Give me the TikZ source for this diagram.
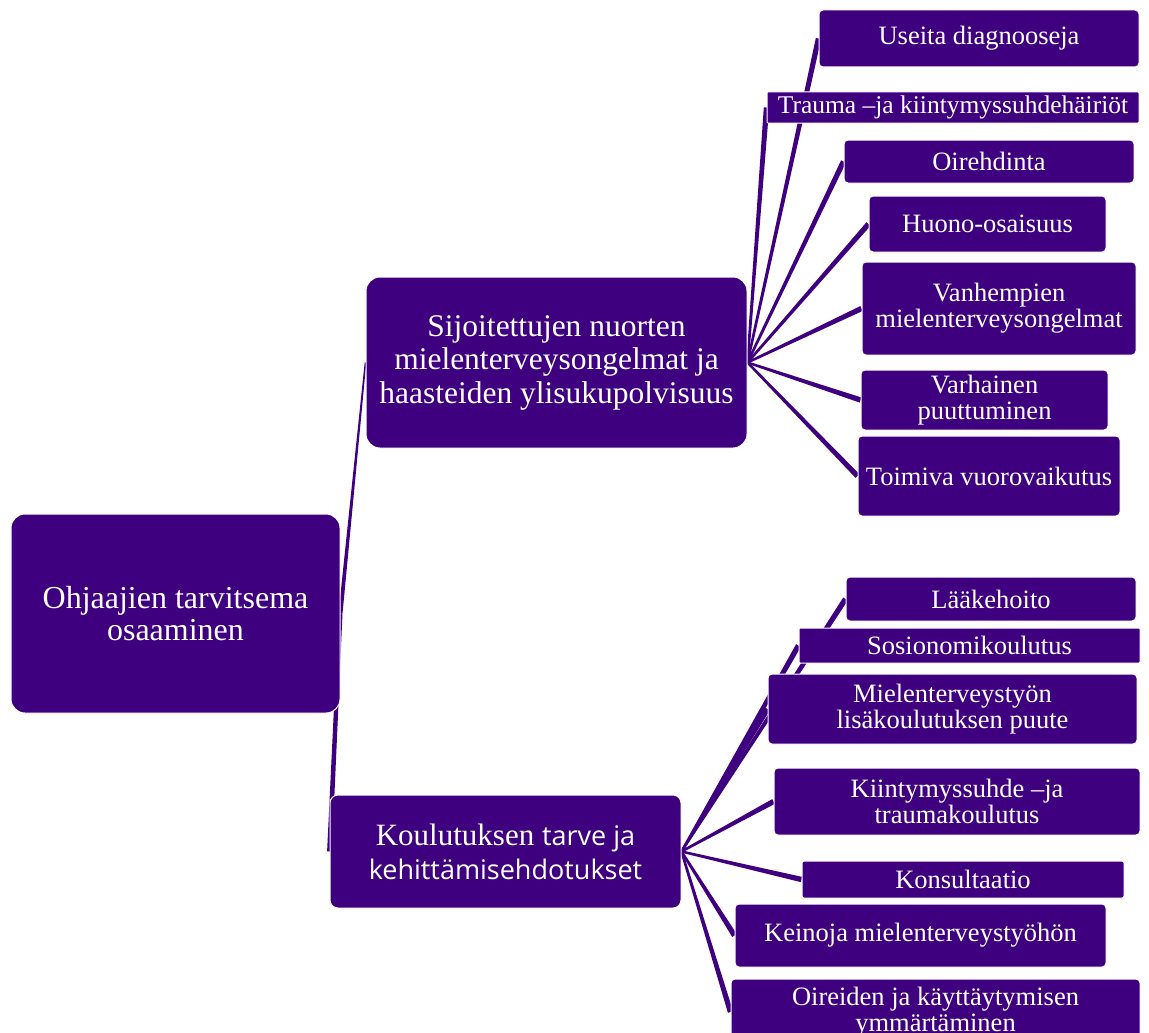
\documentclass[tikz,border=0pt]{standalone}
\usepackage{fontspec}
\setmainfont{Liberation Serif}
\newfontfamily\uifont{Open Sans}
\usepackage{tikz}
\usetikzlibrary{positioning, calc, backgrounds}
\definecolor{boxpurple}{RGB}{62,0,126}
% tapered connector: from, to, half width at start, half width at end
\newcommand{\taperlink}[4]{%
    \fill[boxpurple] ($(#1)!#3!90:(#2)$) -- ($(#1)!#3!-90:(#2)$)
        -- ($(#2)!#4!90:(#1)$) -- ($(#2)!#4!-90:(#1)$) -- cycle;%
}

\begin{document}
\begin{tikzpicture}[x=1pt, y=-1pt,
    mainbox/.style={fill=boxpurple, draw=white, line width=1pt, rounded corners=14pt,
        text=white, align=center, inner sep=0pt},
    leafbox/.style={fill=boxpurple, draw=white, line width=1pt, rounded corners=4pt,
        text=white, align=center, inner sep=0pt, font=\fontsize{26.5}{26}\selectfont}]
    \useasboundingbox (0,0) rectangle (1149,1033);

    % top levels
    \node[mainbox, minimum width=329pt, minimum height=199pt, font=\fontsize{32}{32}\selectfont]
        (osaaminen) at (175.5,613.5) {Ohjaajien tarvitsema\\osaaminen};
    \node[mainbox, minimum width=381pt, minimum height=171pt, font=\fontsize{31.5}{33.5}\selectfont]
        (sijoitetut) at (556.5,362.5) {Sijoitettujen nuorten\\mielenterveysongelmat ja\\haasteiden ylisukupolvisuus};
    \node[mainbox, rounded corners=8pt, minimum width=351pt, minimum height=113pt, font=\fontsize{31}{34}\selectfont]
        (koulutus) at (505.5,851.5) {Koulutuksen {\uifont\fontsize{27}{34}\selectfont tarve ja}\\{\uifont\fontsize{27}{34}\selectfont kehittämisehdotukset}};

    % leaves of the upper branch
    \node[leafbox, minimum width=320pt, minimum height=57pt] (diagnoosit) at (979,38.5) {Useita diagnooseja};
    \node[leafbox, rounded corners=1pt, minimum width=372pt, minimum height=31pt, font=\fontsize{25.5}{25}\selectfont]
        (trauma) at (953,107.5) {Trauma –ja kiintymyssuhdehäiriöt};
    \node[leafbox, minimum width=290pt, minimum height=43pt] (oirehdinta) at (989,161.5) {Oirehdinta};
    \node[leafbox, minimum width=237pt, minimum height=56pt] (huono) at (987.5,224) {Huono-osaisuus};
    \node[leafbox, minimum width=274pt, minimum height=93pt] (vanhemmat) at (999,308.5) {Vanhempien\\mielenterveysongelmat};
    \node[leafbox, minimum width=247pt, minimum height=60pt] (varhainen) at (984.5,400) {Varhainen\\puuttuminen};
    \node[leafbox, minimum width=262pt, minimum height=80pt] (vuorovaikutus) at (989,476) {Toimiva vuorovaikutus};

    % leaves of the lower branch
    \node[leafbox, minimum width=290pt, minimum height=44pt] (laake) at (991,599) {Lääkehoito};
    \node[leafbox, rounded corners=1pt, minimum width=341pt, minimum height=35pt] (sosionomi) at (969.5,645.5) {Sosionomikoulutus};
    \node[leafbox, minimum width=369pt, minimum height=70pt] (lisakoulutus) at (952.5,709) {Mielenterveystyön\\lisäkoulutuksen puute};
    \node[leafbox, minimum width=366pt, minimum height=67pt] (kiintymys) at (957,801.5) {Kiintymyssuhde –ja\\traumakoulutus};
    \node[leafbox, rounded corners=2pt, minimum width=322pt, minimum height=37pt] (konsultaatio) at (963,879.5) {Konsultaatio};
    \node[leafbox, minimum width=371pt, minimum height=63pt] (keinot) at (920.5,935.5) {Keinoja mielenterveystyöhön};
    \node[leafbox, minimum width=409pt, minimum height=66pt] (oireet) at (935.5,1012) {Oireiden ja käyttäytymisen\\ymmärtäminen};

    \begin{scope}[on background layer]
        \taperlink{osaaminen.east}{sijoitetut.west}{2pt}{0.8pt}
        \taperlink{osaaminen.east}{koulutus.west}{2pt}{2.4pt}
        \foreach \leaf in {diagnoosit, trauma, oirehdinta, huono, vanhemmat, varhainen, vuorovaikutus}{
            \taperlink{sijoitetut.east}{\leaf.west}{1.2pt}{2.7pt}
        }
        \foreach \leaf in {laake, sosionomi, lisakoulutus, kiintymys, konsultaatio, keinot, oireet}{
            \taperlink{koulutus.east}{\leaf.west}{1.2pt}{2.7pt}
        }
    \end{scope}
\end{tikzpicture}
\end{document}
